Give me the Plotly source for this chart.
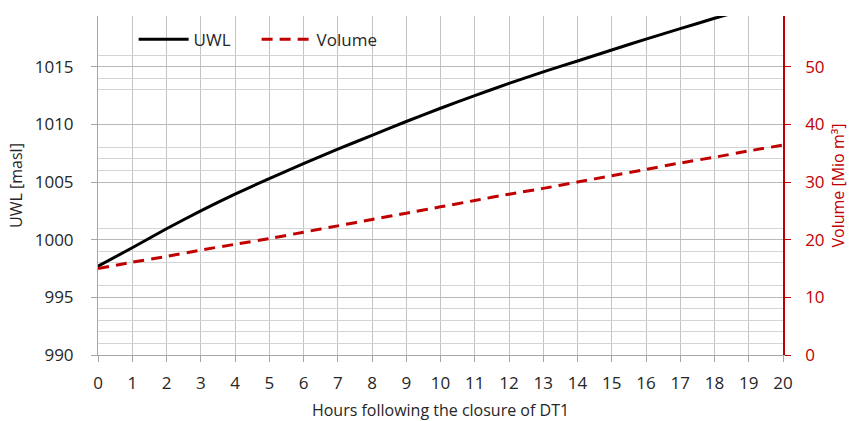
import plotly.graph_objects as go

hours = list(range(0, 21))
uwl = [997.7, 999.3, 1000.95, 1002.5, 1003.95, 1005.3, 1006.6, 1007.85, 1009.05, 1010.25,
       1011.4, 1012.5, 1013.55, 1014.55, 1015.5, 1016.45, 1017.4, 1018.3, 1019.2, 1020.05, 1020.9]
volume = [15.0, 16.1, 17.1, 18.2, 19.2, 20.2, 21.3, 22.4, 23.5, 24.6,
          25.7, 26.8, 27.9, 28.9, 30.0, 31.1, 32.2, 33.3, 34.3, 35.4, 36.4]

left_ticks = [990, 995, 1000, 1005, 1010, 1015]
right_ticks = [0, 10, 20, 30, 40, 50]
minor_grid = [991, 992, 993, 994, 996, 998, 999, 1001, 1006, 1007, 1008, 1013, 1014, 1016]

Y_RANGE = [990, 1019.4]
V_RANGE = [0, 58.8]
RED = "#c00000"
FONT = "Open Sans"
FS = 17

fig = go.Figure()
fig.add_trace(go.Scatter(x=hours, y=uwl, name="UWL", mode="lines",
                         line=dict(color="black", width=3, shape="spline", smoothing=0.6),
                         yaxis="y"))
fig.add_trace(go.Scatter(x=hours, y=volume, name="Volume", mode="lines",
                         line=dict(color=RED, width=3, dash="11px,7px", shape="spline", smoothing=0.6),
                         yaxis="y2"))
# invisible carrier so the extra grid axis is drawn
fig.add_trace(go.Scatter(x=[hours[0]], y=[Y_RANGE[0]], mode="markers",
                         marker=dict(opacity=0, size=1), showlegend=False,
                         hoverinfo="skip", yaxis="y3"))

fig.update_layout(
    width=849, height=421,
    margin=dict(l=98, r=66, t=16, b=66),
    plot_bgcolor="white", paper_bgcolor="white",
    font=dict(family=FONT, size=FS, color="#262626"),
    showlegend=True,
    legend=dict(orientation="h", x=0.052, y=0.93, xanchor="left", yanchor="middle",
                bgcolor="rgba(0,0,0,0)", font=dict(size=FS, color="#262626"),
                itemwidth=50, entrywidth=58, entrywidthmode="pixels",
                tracegroupgap=0),
    xaxis=dict(range=[0, 20], tickmode="array", tickvals=hours,
               showgrid=True, gridcolor="#c4c4c4", gridwidth=1,
               showline=True, linecolor="#a6a6a6", linewidth=1,
               ticks="outside", ticklen=6, tickcolor="#a6a6a6",
               ticklabelstandoff=7, automargin=False,
               zeroline=False,
               title=dict(text="Hours following the closure of DT1", standoff=12,
                          font=dict(size=FS - 1))),
    yaxis=dict(range=Y_RANGE, tickmode="array", tickvals=left_ticks,
               showgrid=True, gridcolor="#b8b8b8", gridwidth=1.2,
               showline=True, linecolor="#a6a6a6", linewidth=1,
               ticks="outside", ticklen=6, tickcolor="#a6a6a6",
               ticklabelstandoff=14, automargin=False,
               zeroline=False,
               title=dict(text="UWL [masl]", standoff=8, font=dict(size=FS - 1))),
    yaxis2=dict(range=V_RANGE, tickmode="array", tickvals=right_ticks,
                overlaying="y", side="right", anchor="x",
                showgrid=False, zeroline=False,
                showline=True, linecolor=RED, linewidth=1.5,
                ticks="outside", ticklen=6, tickcolor=RED,
                ticklabelstandoff=11, automargin=False,
                tickfont=dict(color=RED, size=FS),
                title=dict(text="Volume [Mio m³]", standoff=12,
                           font=dict(color=RED, size=FS - 1))),
    yaxis3=dict(range=Y_RANGE, tickmode="array", tickvals=minor_grid,
                overlaying="y", anchor="x", side="left",
                showgrid=True, gridcolor="#d4d4d4", gridwidth=1,
                showticklabels=False, ticks="", showline=False, zeroline=False,
                automargin=False),
)

fig.write_html("out.html")
